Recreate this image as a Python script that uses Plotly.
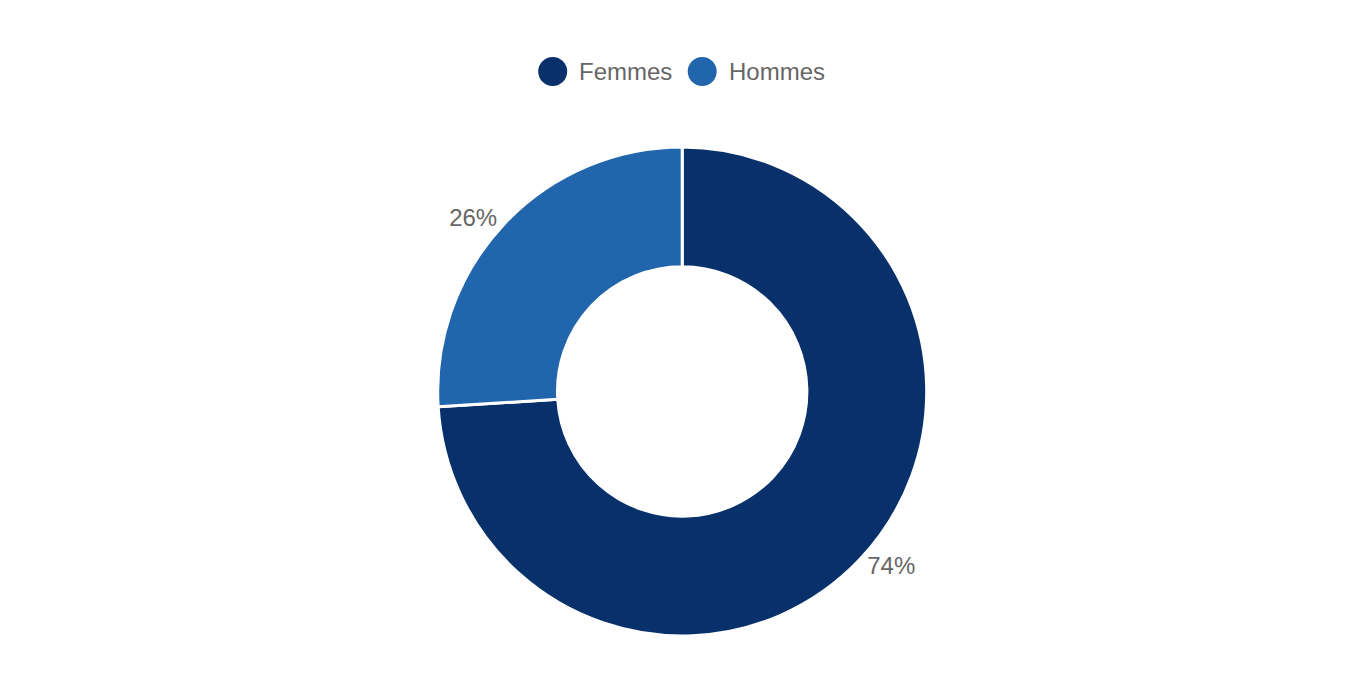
"""
Donut chart: répartition Femmes / Hommes.
"""
import plotly.graph_objects as go

LABELS = ["Femmes", "Hommes"]
VALUES = [74, 26]
COLORS = ["#08306b", "#2166ac"]

W, H = 1360, 680
MARGIN = dict(l=0, r=0, t=139, b=52)
PIE_DOMAIN_X = [0, 0.8]
PIE_MID = sum(PIE_DOMAIN_X) / 2

# custom legend (round markers): pixel offsets of each circle centre
# from the middle of the donut
LEGEND_DX = [-129.5, 20]
LEGEND_Y = 63.5
DOT = 29
FONT = "Liberation Sans, Arial, Helvetica, sans-serif"
GREY = "#666666"


def build_chart() -> go.Figure:
    fig = go.Figure()

    fig.add_trace(go.Pie(
        labels=LABELS,
        values=VALUES,
        domain=dict(x=PIE_DOMAIN_X, y=[0, 1]),
        marker=dict(colors=COLORS, line=dict(color="white", width=3)),
        hole=0.51,
        sort=False,
        direction="clockwise",
        rotation=0,
        textposition="outside",
        texttemplate="%{percent:.0%}",
        textfont=dict(size=24, color=GREY, family=FONT),
        showlegend=False,
    ))

    plot_h = H - MARGIN["t"] - MARGIN["b"]
    ypaper = (H - MARGIN["b"] - LEGEND_Y) / plot_h
    shapes, annotations = [], []
    for label, color, dx in zip(LABELS, COLORS, LEGEND_DX):
        shapes.append(dict(
            type="circle", xref="paper", yref="paper",
            xsizemode="pixel", ysizemode="pixel",
            xanchor=PIE_MID, yanchor=ypaper,
            x0=dx - DOT / 2, x1=dx + DOT / 2, y0=-DOT / 2, y1=DOT / 2,
            fillcolor=color, line=dict(width=0),
        ))
        annotations.append(dict(
            text=label, xref="paper", yref="paper",
            x=PIE_MID, xshift=dx + DOT / 2 + 10, y=ypaper,
            xanchor="left", yanchor="middle", showarrow=False,
            font=dict(size=24, color=GREY, family=FONT),
        ))

    fig.update_layout(
        width=W,
        height=H,
        shapes=shapes,
        annotations=annotations,
        plot_bgcolor="white",
        paper_bgcolor="white",
        margin=MARGIN,
        font=dict(family=FONT),
    )
    return fig


if __name__ == "__main__":
    fig = build_chart()
    fig.write_html("out.html")
